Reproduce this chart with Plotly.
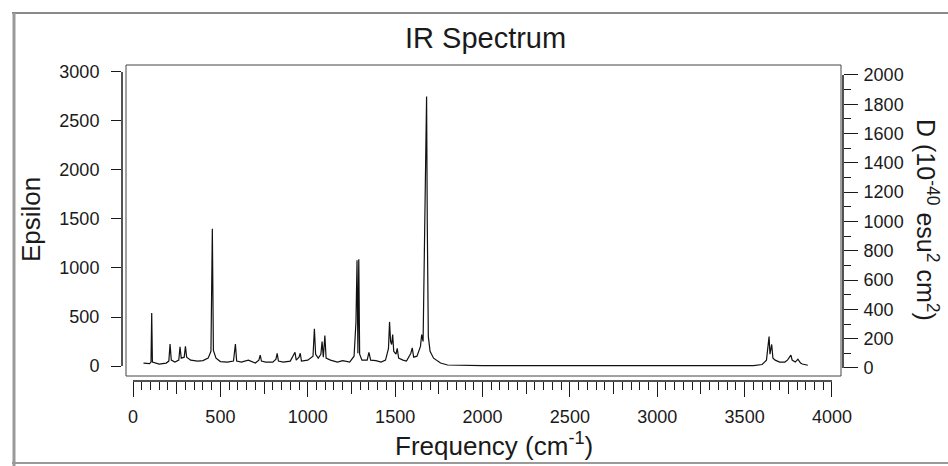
import plotly.graph_objects as go

# Broadened IR spectrum (frequency in cm^-1, epsilon)
freq = [60, 95, 103, 107, 111, 150, 190, 205, 212, 219, 240, 262, 269, 276, 293, 300, 307,
        330, 370, 400, 430, 446, 454, 460, 475, 500, 540, 575, 586, 593, 620, 660, 700,
        720, 728, 735, 760, 800, 818, 825, 832, 860, 900, 920, 927, 934, 950, 957, 964,
        1000, 1030, 1038, 1045, 1060, 1075, 1082, 1089, 1098, 1105, 1130, 1170, 1200, 1240,
        1265, 1276, 1282, 1287, 1292, 1297, 1310, 1340, 1350, 1360, 1390, 1420, 1445, 1462,
        1468, 1474, 1480, 1486, 1492, 1505, 1512, 1520, 1545, 1565, 1590, 1598, 1606, 1625,
        1645, 1652, 1660, 1670, 1676, 1680, 1684, 1690, 1700, 1720, 1760, 1800, 2000, 3000,
        3550, 3600, 3625, 3640, 3645, 3655, 3662, 3675, 3700, 3730, 3745, 3765, 3772, 3790,
        3805, 3820, 3830, 3862]
epsilon = [30, 25, 40, 540, 40, 20, 30, 50, 225, 60, 40, 60, 195, 80, 90, 200, 90,
           60, 50, 55, 80, 150, 1400, 160, 80, 45, 40, 50, 225, 50, 40, 60, 30,
           60, 110, 50, 40, 40, 70, 130, 50, 40, 50, 110, 140, 60, 90, 130, 50,
           60, 100, 380, 120, 80, 120, 250, 90, 310, 80, 60, 40, 55, 40,
           100, 450, 1080, 130, 1090, 120, 60, 60, 140, 60, 55, 40, 60, 180,
           450, 250, 220, 320, 150, 120, 180, 80, 60, 50, 130, 185, 90, 100,
           200, 320, 250, 1500, 2000, 2750, 1450, 300, 150, 80, 30, 10, 4, 4,
           4, 15, 60, 300, 120, 220, 80, 60, 40, 40, 60, 110, 60, 40,
           70, 30, 20, 8]

x_ticks = [0, 500, 1000, 1500, 2000, 2500, 3000, 3500, 4000]
eps_ticks = [0, 500, 1000, 1500, 2000, 2500, 3000]
d_ticks = [0, 200, 400, 600, 800, 1000, 1200, 1400, 1600, 1800, 2000]

title_text = "IR Spectrum"
x_title = "Frequency (cm<sup>-1</sup>)"
y_title = "Epsilon"
y2_title = "D (10<sup>-40</sup> esu<sup>2</sup> cm<sup>2</sup>)"

W, H = 948, 466
L, R, T, B = 122, 843, 65, 381  # plot area pixel box


def px(xp):
    return (xp - L) / (R - L)


def py(yp):
    return (B - yp) / (B - T)


FONT = "Liberation Sans, Arial, sans-serif"
INK = "#1a1a1a"

fig = go.Figure()
fig.add_trace(go.Scatter(x=freq, y=epsilon, mode="lines",
                         line=dict(color="#111111", width=1.2), hoverinfo="skip",
                         showlegend=False))
# helper traces so the extra axes are rendered
fig.add_trace(go.Scatter(x=[0], y=[0], yaxis="y2", mode="markers",
                         marker=dict(opacity=0), hoverinfo="skip", showlegend=False))
fig.add_trace(go.Scatter(x=[0], y=[0], xaxis="x2", mode="markers",
                         marker=dict(opacity=0), hoverinfo="skip", showlegend=False))

minor_x = [v for v in range(50, 4000, 50) if v % 250 != 0]
mid_x = [v for v in range(250, 4000, 500)]
minor_d = [v for v in range(100, 2000, 200)]

fig.update_layout(
    width=W, height=H,
    margin=dict(l=L, r=W - R, t=T, b=H - B, pad=0),
    paper_bgcolor="white", plot_bgcolor="white",
    font=dict(family=FONT, color=INK, size=18),
    xaxis=dict(range=[-63, 4063], tickmode="array", tickvals=x_ticks,
               ticks="outside", ticklen=15, tickwidth=1, tickcolor=INK,
               showline=False, showgrid=False, zeroline=False,
               ticklabelstandoff=4, tickfont=dict(size=18),
               minor=dict(tickmode="array", tickvals=minor_x, ticks="outside",
                          ticklen=8, tickwidth=1, tickcolor=INK, showgrid=False)),
    xaxis2=dict(range=[-63, 4063], overlaying="x", anchor="y", side="bottom",
                tickmode="array", tickvals=mid_x, ticks="outside", ticklen=12,
                tickwidth=1, tickcolor=INK, showticklabels=False,
                showline=False, showgrid=False, zeroline=False),
    yaxis=dict(range=[-153, 3071], tickmode="array", tickvals=eps_ticks,
               ticks="outside", ticklen=10, tickwidth=1, tickcolor=INK,
               showline=False, showgrid=False, zeroline=False,
               ticklabelstandoff=8, tickfont=dict(size=18)),
    yaxis2=dict(range=[-89, 2068], overlaying="y", side="right", anchor="x",
                tickmode="array", tickvals=d_ticks, ticks="outside", ticklen=14,
                tickwidth=1, tickcolor=INK, showline=False, showgrid=False,
                zeroline=False, ticklabelstandoff=2, tickfont=dict(size=18),
                minor=dict(tickmode="array", tickvals=minor_d, ticks="outside",
                           ticklen=7, tickwidth=1, tickcolor=INK, showgrid=False)),
    showlegend=False,
)

shapes = [
    # plot box
    dict(type="rect", xref="paper", yref="paper", x0=px(126), x1=px(841),
         y0=py(376), y1=py(65), line=dict(color="#444444", width=1)),
    # bottom axis line
    dict(type="line", xref="x", yref="paper", x0=0, x1=4000, y0=0, y1=0,
         line=dict(color=INK, width=1.5)),
    # left axis line
    dict(type="line", xref="paper", yref="y", x0=0, x1=0, y0=0, y1=3000,
         line=dict(color=INK, width=1.5)),
    # right axis line
    dict(type="line", xref="paper", yref="y2", x0=1, x1=1, y0=0, y1=2000,
         line=dict(color=INK, width=1.5)),
    # window frame
    dict(type="line", xref="paper", yref="paper", x0=px(12), x1=px(948),
         y0=py(13), y1=py(13), line=dict(color="#8a8a8a", width=2)),
    dict(type="line", xref="paper", yref="paper", x0=px(14), x1=px(14),
         y0=py(13), y1=py(466), line=dict(color="#9a9a9a", width=3)),
    dict(type="line", xref="paper", yref="paper", x0=px(12), x1=px(948),
         y0=py(463), y1=py(463), line=dict(color="#9a9a9a", width=2)),
]
fig.update_layout(shapes=shapes)

annotations = [
    dict(text=title_text, x=px(485), y=py(38), xref="paper", yref="paper",
         showarrow=False, xanchor="center", yanchor="middle",
         font=dict(size=29, color=INK, family=FONT)),
    dict(text=x_title, x=px(494), y=py(444), xref="paper", yref="paper",
         showarrow=False, xanchor="center", yanchor="middle",
         font=dict(size=26, color=INK, family=FONT)),
    dict(text=y_title, x=px(31), y=py(220), xref="paper", yref="paper",
         showarrow=False, xanchor="center", yanchor="middle", textangle=-90,
         font=dict(size=26, color=INK, family=FONT)),
    dict(text=y2_title, x=px(927), y=py(220), xref="paper", yref="paper",
         showarrow=False, xanchor="center", yanchor="middle", textangle=90,
         font=dict(size=25, color=INK, family=FONT)),
]
fig.update_layout(annotations=annotations)

fig.write_html(
    "out.html",
    config={"displayModeBar": False},
    post_script="document.body.style.margin='0';document.body.style.overflow='hidden';",
)
